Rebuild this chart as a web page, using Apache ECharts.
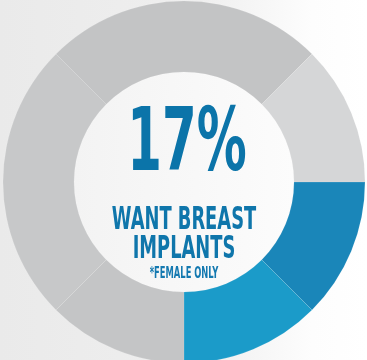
<!DOCTYPE html>
<html><head><meta charset="utf-8">
<script src="https://cdn.jsdelivr.net/npm/echarts@6/dist/echarts.min.js"></script>
<style>html,body{margin:0;padding:0;background:#fff}#c{width:367px;height:360px}</style>
</head><body><div id="c"></div>
<script>
// Ring segments (clockwise from 3 o'clock), each unit = 45 degrees
const segmentNames = ['Want breast implants A', 'Want breast implants B', 'Other 1', 'Other 2', 'Other 3', 'Other 4'];
const segmentValues = [1, 1, 1, 2, 2, 1];
const segmentColors = ['#1a86b9', '#1b9bc9', '#c4c5c6', '#c7c8c9', '#c3c4c5', '#d5d6d7'];
const headline = '17%';
const line1 = 'WANT BREAST';
const line2 = 'IMPLANTS';
const note = '*FEMALE ONLY';

const chart = echarts.init(document.getElementById('c'), null, {renderer: 'canvas'});
const cx = 184, cy = 182;
const font = '"DejaVu Sans Condensed", "DejaVu Sans", sans-serif';
chart.setOption({
  animation: false,
  backgroundColor: {
    type: 'linear', x: 0, y: 0, x2: 1, y2: 0,
    colorStops: [{offset: 0, color: '#eaeaea'}, {offset: 0.55, color: '#efefef'}, {offset: 0.85, color: '#fdfdfd'}, {offset: 1, color: '#ffffff'}]
  },
  series: [{
    type: 'pie',
    center: [cx, cy],
    radius: [110, 181],
    startAngle: 0,
    clockwise: true,
    silent: true,
    label: {show: false},
    labelLine: {show: false},
    itemStyle: {borderColor: 'rgba(255,255,255,0.2)', borderWidth: 0.5},
    data: segmentNames.map((n, i) => ({name: n, value: segmentValues[i], itemStyle: {color: segmentColors[i]}}))
  }],
  graphic: [
    {type: 'circle', shape: {cx: cx, cy: cy, r: 110}, silent: true, z: 1,
     style: {fill: {type: 'linear', x: 0, y: 0, x2: 1, y2: 0, colorStops: [{offset: 0, color: '#f3f3f3'}, {offset: 1, color: '#fcfcfc'}]}}},
    {type: 'text', x: cx + 3, y: 147, scaleX: 0.63, z: 10, silent: true,
     style: {text: headline, font: 'bold 88px ' + font, fill: '#0b74a9', textAlign: 'center', textVerticalAlign: 'middle'}},
    {type: 'text', x: cx, y: 220.5, scaleX: 0.62, z: 10, silent: true,
     style: {text: line1, font: 'bold 32px ' + font, fill: '#0f76ab', textAlign: 'center', textVerticalAlign: 'middle'}},
    {type: 'text', x: cx, y: 250, scaleX: 0.62, z: 10, silent: true,
     style: {text: line2, font: 'bold 32px ' + font, fill: '#0f76ab', textAlign: 'center', textVerticalAlign: 'middle'}},
    {type: 'text', x: cx, y: 274, scaleX: 0.62, z: 10, silent: true,
     style: {text: note, font: 'bold 15px ' + font, fill: '#1479b0', textAlign: 'center', textVerticalAlign: 'middle'}}
  ]
});
</script></body></html>
